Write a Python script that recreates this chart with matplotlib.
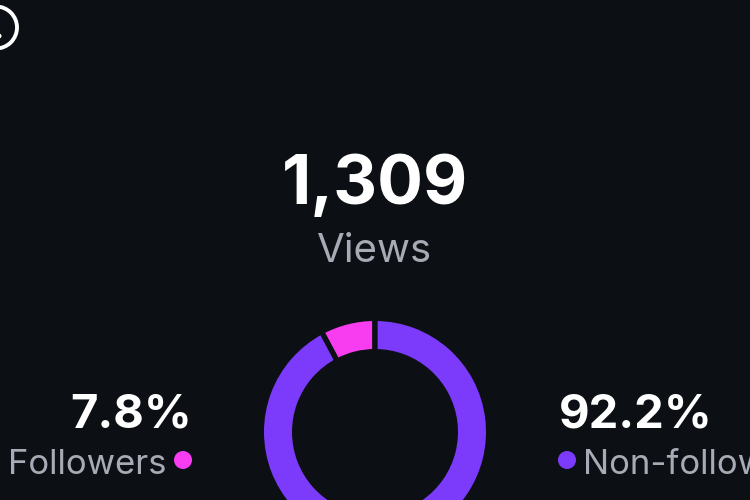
import matplotlib
matplotlib.use('Agg')
import matplotlib.pyplot as plt
from matplotlib.patches import Circle

BG = '#0c1014'
GREY = '#a8abb5'

total_views = '1,309'
total_label = 'Views'
categories = ['Followers', 'Non-followers']
shares = [7.8, 92.2]
colors = ['#f83cf0', '#7c3bfb']

plt.rcParams['font.family'] = ['Inter', 'DejaVu Sans']

fig = plt.figure(figsize=(7.5, 5), dpi=100, facecolor=BG)
# whole-figure axes in pixel coordinates, y pointing down like the screenshot
ax = fig.add_axes([0, 0, 1, 1], facecolor=BG)

# y is flipped, so -90 is 12 o'clock and counterclock=False runs to the left on screen
# the 3.8pt edge eats 2.65px on each side, radius and width make up for it
ax.pie(shares, colors=colors, center=(375, 432), radius=113.65,
       startangle=-90, counterclock=False, frame=False,
       wedgeprops=dict(width=33.3, edgecolor=BG, linewidth=3.8))
ax.set_xlim(0, 750)
ax.set_ylim(500, 0)
ax.set_aspect('auto')
ax.axis('off')

# badge clipped at the top left corner
ax.add_patch(Circle((-4, 27.5), 21, fill=False, edgecolor='white', linewidth=2.8))
ax.add_patch(Circle((-1, 36), 2.5, color='white', linewidth=0))

ax.text(375, 186, total_views, color='white', fontsize=49, fontweight='bold',
        ha='center', va='center')
ax.text(375, 252, total_label, color=GREY, fontsize=29, ha='center', va='center')

ax.text(192, 415, f'{shares[0]}%', color='white', fontsize=34, fontweight='bold',
        ha='right', va='center')
ax.text(166.5, 465, categories[0], color=GREY, fontsize=25, ha='right', va='center')
ax.add_patch(Circle((183, 460), 9, color=colors[0], linewidth=0))

ax.text(559, 415, f'{shares[1]}%', color='white', fontsize=34, fontweight='bold',
        ha='left', va='center')
ax.add_patch(Circle((567, 460), 9, color=colors[1], linewidth=0))
ax.text(582.5, 465, categories[1], color=GREY, fontsize=25, ha='left', va='center')

fig.savefig('out.png', dpi=100, facecolor=BG)
